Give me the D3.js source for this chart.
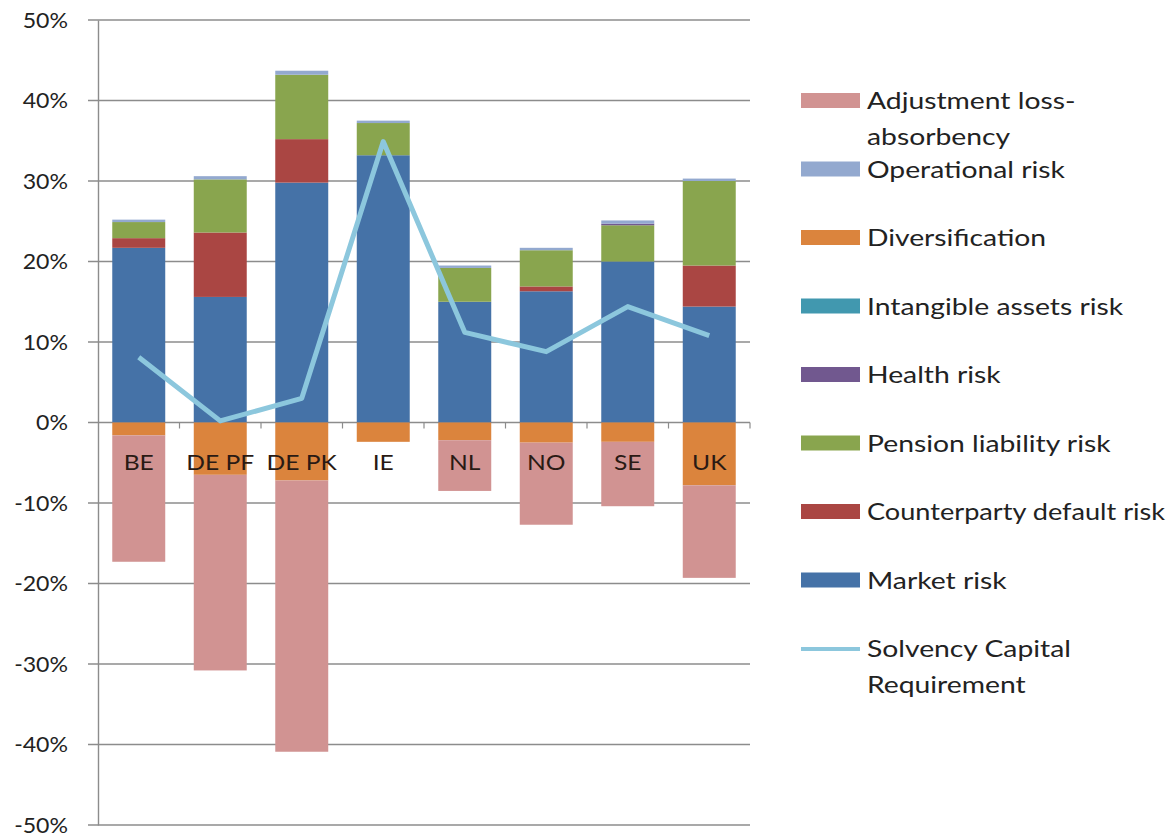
<!DOCTYPE html>
<html>
<head>
<meta charset="utf-8">
<script src="https://cdn.jsdelivr.net/npm/d3@7"></script>
<style>
  html, body { margin: 0; padding: 0; background: #fff; }
  svg { display: block; font-family: Lato, "Open Sans", sans-serif; }
</style>
</head>
<body>
<svg id="chart" width="1169" height="839"></svg>
<script>
// Country / scheme categories
const categories = ["BE", "DE PF", "DE PK", "IE", "NL", "NO", "SE", "UK"];

// Risk components, % of liabilities (positive stack)
const marketRisk        = [21.7, 15.6, 29.8, 33.2, 15.0, 16.3, 20.0, 14.4];
const counterpartyRisk  = [ 1.2,  8.0,  5.4,  0.0,  0.0,  0.6,  0.0,  5.1];
const pensionRisk       = [ 2.0,  6.6,  8.0,  4.0,  4.2,  4.5,  4.5, 10.5];
const healthRisk        = [ 0.0,  0.0,  0.0,  0.0,  0.0,  0.0,  0.2,  0.0];
const intangibleRisk    = [ 0.0,  0.0,  0.0,  0.0,  0.0,  0.0,  0.0,  0.0];
const operationalRisk   = [ 0.3,  0.4,  0.5,  0.3,  0.3,  0.3,  0.4,  0.3];

// Offsetting components (negative stack)
const diversification   = [-1.6, -6.5, -7.2, -2.4, -2.2, -2.5, -2.4, -7.8];
const adjustmentLossAbs = [-15.7, -24.3, -33.7, 0.0, -6.3, -10.2, -8.0, -11.5];

// Net solvency capital requirement
const scr = [8.1, 0.2, 3.0, 34.9, 11.2, 8.8, 14.4, 10.8];

const yTicks = [-50, -40, -30, -20, -10, 0, 10, 20, 30, 40, 50];

const posSeries = [
  { name: "Market risk",               values: marketRisk,       color: "#4572A7" },
  { name: "Counterparty default risk", values: counterpartyRisk, color: "#AA4643" },
  { name: "Pension liability  risk",   values: pensionRisk,      color: "#89A54E" },
  { name: "Health risk",               values: healthRisk,       color: "#71588F" },
  { name: "Intangible assets risk",    values: intangibleRisk,   color: "#4198AF" },
  { name: "Operational risk",          values: operationalRisk,  color: "#93A9CF" }
];
const negSeries = [
  { name: "Diversification",            values: diversification,   color: "#DB843D" },
  { name: "Adjustment loss-absorbency", values: adjustmentLossAbs, color: "#D19392" }
];

// Legend order (top to bottom); sx = horizontal glyph stretch
const legendItems = [
  { lines: ["Adjustment loss-", "absorbency"], color: "#D19392", type: "rect", sx: 1.23 },
  { lines: ["Operational risk"], color: "#93A9CF", type: "rect", sx: 1.23 },
  { lines: ["Diversification"], color: "#DB843D", type: "rect", sx: 1.23 },
  { lines: ["Intangible assets risk"], color: "#4198AF", type: "rect", sx: 1.23 },
  { lines: ["Health risk"], color: "#71588F", type: "rect", sx: 1.23 },
  { lines: ["Pension liability  risk"], color: "#89A54E", type: "rect", sx: 1.23 },
  { lines: ["Counterparty default risk"], color: "#AA4643", type: "rect", sx: 1.18 },
  { lines: ["Market risk"], color: "#4572A7", type: "rect", sx: 1.23 },
  { lines: ["Solvency Capital", "Requirement"], color: "#8CC7DD", type: "line", sx: 1.23 }
];

const svg = d3.select("#chart");

const x = d3.scaleBand()
  .domain(categories)
  .range([98, 750])
  .paddingInner(0.35)
  .paddingOuter(0.175);

const y = d3.scaleLinear().domain([-50, 50]).range([825, 20]);

// Gridlines
svg.append("g")
  .selectAll("line")
  .data(yTicks)
  .join("line")
  .attr("x1", 88).attr("x2", 750)
  .attr("y1", d => y(d)).attr("y2", d => y(d))
  .attr("stroke", "#8c8c8c").attr("stroke-width", 1.4);

// Y axis
const yAxis = d3.axisLeft(y)
  .tickValues(yTicks)
  .tickSize(0)
  .tickPadding(30)
  .tickFormat(d => d + "%");
const gy = svg.append("g").attr("transform", "translate(98,0)").call(yAxis);
gy.select(".domain").attr("stroke", "#8c8c8c").attr("stroke-width", 1.4);
gy.selectAll("text")
  .attr("font-size", 22)
  .attr("font-family", "Lato, sans-serif")
  .attr("fill", "#222")
  .attr("transform", "scale(1.05,1)")
  .attr("x", -30 / 1.05);

// Stack helpers
function stackUp(series) {
  const base = categories.map(() => 0);
  return series.map(s => ({
    ...s,
    segs: s.values.map((v, i) => {
      const y0 = base[i];
      base[i] += v;
      return { cat: categories[i], y0, y1: base[i] };
    })
  }));
}

const stacked = stackUp(posSeries).concat(stackUp(negSeries));

const bars = svg.append("g");
stacked.forEach(s => {
  bars.append("g")
    .selectAll("rect")
    .data(s.segs.filter(d => d.y1 !== d.y0))
    .join("rect")
    .attr("x", d => x(d.cat))
    .attr("width", x.bandwidth())
    .attr("y", d => y(Math.max(d.y0, d.y1)))
    .attr("height", d => Math.abs(y(d.y0) - y(d.y1)))
    .attr("fill", s.color);
});

// Category axis ticks along the zero line
const boundaries = d3.range(1, categories.length + 1).map(i => x.range()[0] + i * x.step());
svg.append("g")
  .selectAll("line")
  .data(boundaries)
  .join("line")
  .attr("x1", d => d).attr("x2", d => d)
  .attr("y1", y(0)).attr("y2", y(0) + 6)
  .attr("stroke", "#8c8c8c").attr("stroke-width", 1.2);

// SCR line
const line = d3.line()
  .x((d, i) => x(categories[i]) + x.bandwidth() / 2)
  .y(d => y(d));
svg.append("path")
  .datum(scr)
  .attr("d", line)
  .attr("fill", "none")
  .attr("stroke", "#8CC7DD")
  .attr("stroke-width", 5)
  .attr("stroke-linejoin", "round");

// Category labels (slightly widened glyphs)
svg.append("g")
  .selectAll("text")
  .data(categories)
  .join("text")
  .attr("transform", d => `translate(${x(d) + x.bandwidth() / 2},${y(0) + 47}) scale(1.12,1)`)
  .attr("text-anchor", "middle")
  .attr("font-size", 22)
  .attr("fill", "#2a1a14")
  .text(d => d);

// Legend
const lg = svg.append("g");
legendItems.forEach((item, i) => {
  const cy = 101 + i * 68.5;
  if (item.type === "rect") {
    lg.append("rect")
      .attr("x", 801).attr("y", cy - 8)
      .attr("width", 59).attr("height", 15)
      .attr("fill", item.color);
  } else {
    lg.append("line")
      .attr("x1", 801).attr("x2", 860)
      .attr("y1", cy).attr("y2", cy)
      .attr("stroke", item.color).attr("stroke-width", 4);
  }
  item.lines.forEach((t, j) => {
    lg.append("text")
      .attr("transform", `translate(867,${cy + 8 + j * 36}) scale(${item.sx},1)`)
      .attr("font-size", 23)
      .attr("fill", "#222")
      .text(t);
  });
});
</script>
</body>
</html>
